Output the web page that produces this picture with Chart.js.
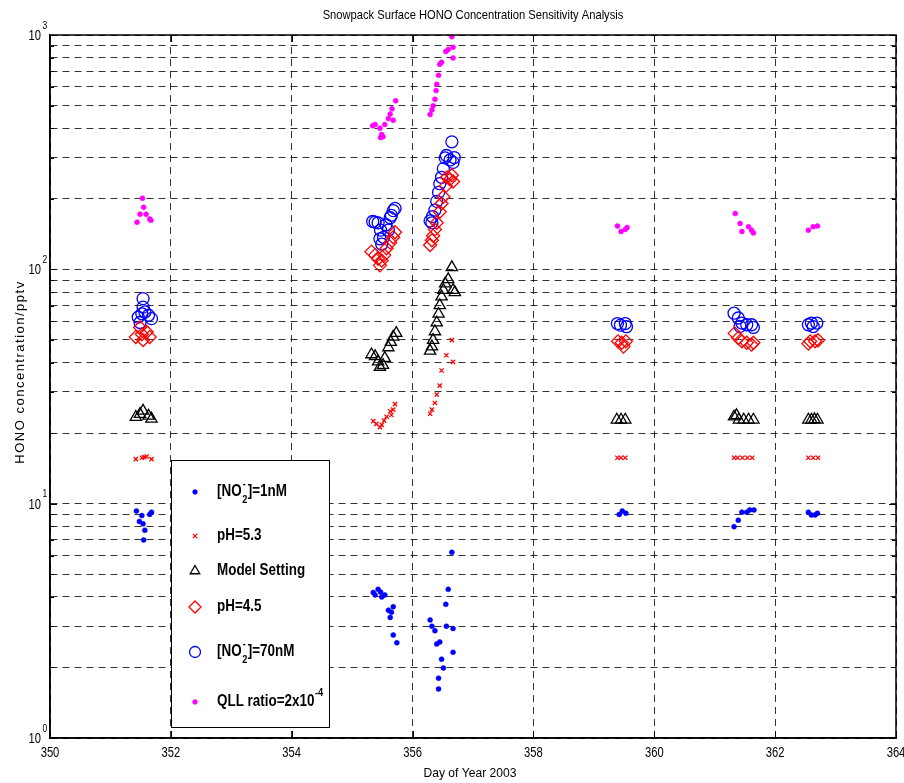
<!DOCTYPE html>
<html>
<head>
<meta charset="utf-8">
<script src="https://cdn.jsdelivr.net/npm/chart.js@4.4.0/dist/chart.umd.min.js"></script>
<style>
  html, body { margin: 0; padding: 0; background: #fff; }
  canvas { display: block; }
</style>
</head>
<body>
<canvas id="myChart" width="904" height="783" style="width:904px;height:783px"></canvas>
<script>
//Data  (day of year, HONO pptv)

const no2LowPts = [
  [351.43, 9.3], [351.52, 8.9], [351.54, 8.2], [351.65, 9.0], [351.68, 9.2], [351.57, 7.7], [351.55, 7.0], [351.48, 8.4],
  [355.35, 4.18], [355.38, 4.08], [355.43, 4.31], [355.47, 4.2], [355.49, 4.0], [355.54, 4.08], [355.60, 3.51], [355.63, 3.27],
  [355.65, 3.44], [355.68, 3.63], [355.68, 2.75], [355.74, 2.55],
  [356.29, 3.19], [356.32, 3.0], [356.37, 2.87], [356.40, 2.52], [356.45, 2.57], [356.48, 2.17], [356.51, 1.99], [356.43, 1.80],
  [356.55, 3.72], [356.56, 3.0], [356.59, 4.31], [356.65, 6.2], [356.67, 2.93], [356.67, 2.32], [356.43, 1.62],
  [359.42, 9.0], [359.47, 9.3], [359.53, 9.1],
  [361.32, 7.98], [361.39, 8.5], [361.45, 9.2], [361.53, 9.2], [361.58, 9.4], [361.65, 9.4],
  [362.55, 9.2], [362.60, 8.95], [362.66, 8.95], [362.70, 9.1]
];

const ph53Pts = [
  [351.42, 15.5], [351.52, 15.7], [351.60, 15.9], [351.68, 15.5], [351.56, 15.8],
  [355.35, 22.5], [355.40, 21.9], [355.46, 21.2], [355.49, 21.7], [355.53, 22.6], [355.57, 23.5], [355.63, 24.8],
  [355.65, 23.9], [355.68, 25.2], [355.71, 26.6],
  [356.29, 24.2], [356.32, 25.2], [356.37, 26.9], [356.40, 29.2], [356.45, 31.9], [356.48, 37], [356.56, 43],
  [356.65, 49.9], [356.67, 40.3],
  [359.39, 15.7], [359.45, 15.7], [359.52, 15.7],
  [361.32, 15.7], [361.38, 15.7], [361.46, 15.7], [361.54, 15.7], [361.62, 15.7],
  [362.55, 15.7], [362.63, 15.7], [362.71, 15.7]
];

const modelPts = [
  [351.42, 23.4], [351.54, 24.9], [351.63, 23.7], [351.68, 23.0], [351.49, 24.1],
  [355.32, 43.3], [355.38, 42.5], [355.43, 40.4], [355.46, 38.3], [355.51, 39], [355.54, 41.8], [355.60, 46.4],
  [355.64, 48.9], [355.68, 51.5], [355.73, 53.4],
  [356.29, 44.9], [356.32, 46.8], [356.34, 49.9], [356.37, 54.3], [356.40, 59.2], [356.43, 64.5], [356.45, 70.2],
  [356.48, 76.5], [356.51, 81.5], [356.54, 86.9], [356.59, 90.6], [356.65, 102], [356.67, 81.5], [356.70, 79.8],
  [359.38, 22.8], [359.45, 22.8], [359.52, 22.8],
  [361.32, 23.5], [361.36, 23.8], [361.40, 22.8], [361.48, 22.8], [361.56, 22.8], [361.64, 22.8],
  [362.55, 22.8], [362.60, 22.8], [362.65, 22.9], [362.70, 22.8]
];

const ph45Pts = [
  [351.42, 51.4], [351.52, 52.8], [351.60, 54], [351.65, 51.4], [351.54, 49.9], [351.49, 56.5],
  [355.32, 119], [355.38, 115], [355.43, 111], [355.46, 104], [355.49, 109], [355.53, 115], [355.57, 123],
  [355.63, 130], [355.68, 137], [355.71, 144],
  [356.29, 127], [356.32, 133], [356.34, 139], [356.37, 148], [356.40, 158], [356.45, 176], [356.48, 191],
  [356.51, 204], [356.55, 227], [356.57, 247], [356.62, 242], [356.65, 252], [356.67, 237],
  [359.40, 49.3], [359.46, 48.6], [359.53, 49.3], [359.49, 46.8],
  [361.33, 53.3], [361.39, 50.9], [361.45, 49.3], [361.53, 48.6], [361.61, 47.7], [361.64, 48.6],
  [362.58, 49.3], [362.66, 49.3], [362.71, 49.8], [362.55, 48.2]
];

const no2HighPts = [
  [351.54, 75], [351.54, 69], [351.46, 62.5], [351.52, 64.6], [351.63, 63.7], [351.68, 61.6], [351.57, 65.8], [351.49, 59.3],
  [355.34, 160], [355.38, 159], [355.43, 158], [355.47, 147], [355.46, 135], [355.49, 128], [355.52, 137], [355.56, 155],
  [355.60, 147], [355.63, 166], [355.65, 170], [355.68, 178], [355.71, 182],
  [356.29, 161], [356.32, 158], [356.33, 168], [356.37, 179], [356.40, 195], [356.43, 213], [356.45, 232], [356.48, 247],
  [356.51, 269], [356.54, 299], [356.56, 306], [356.62, 293], [356.65, 350], [356.67, 286], [356.69, 300],
  [359.39, 58.7], [359.44, 57.8], [359.52, 58.7], [359.54, 56.9],
  [361.32, 65], [361.39, 62], [361.45, 59], [361.53, 58], [361.61, 58], [361.64, 56.5], [361.42, 57.1],
  [362.55, 58], [362.60, 59], [362.69, 59], [362.63, 57]
];

const qllPts = [
  [351.44, 159], [351.49, 172], [351.53, 201], [351.55, 184], [351.59, 172], [351.65, 164], [351.67, 162],
  [355.34, 410], [355.38, 415], [355.46, 400], [355.49, 376], [355.47, 365], [355.51, 368], [355.54, 415],
  [355.60, 440], [355.63, 460], [355.66, 484], [355.68, 433], [355.72, 524],
  [356.29, 458], [356.32, 478], [356.34, 499], [356.37, 532], [356.39, 579], [356.40, 617], [356.43, 673],
  [356.45, 750], [356.48, 765], [356.55, 850], [356.59, 868], [356.65, 984], [356.67, 798], [356.67, 886],
  [359.39, 153], [359.45, 145], [359.52, 148], [359.55, 151],
  [361.34, 173], [361.42, 157], [361.45, 145], [361.56, 152], [361.61, 147], [361.64, 143],
  [362.55, 147], [362.63, 152], [362.70, 153]
];

const xTicks = [350, 352, 354, 356, 358, 360, 362, 364];
const yDecades = [1, 10, 100, 1000];
const yExponents = ['0', '1', '2', '3'];
const yMinorSteps = [2, 3, 4, 5, 6, 7, 8, 9];

//Styles

const FONT = '"Liberation Sans", Arial, sans-serif';
const GRID = 'rgba(0,0,0,0.8)';

function toXY(pts) {
  return pts.map(p => ({ x: p[0], y: p[1] }));
}

// text squeezed horizontally (the original uses a narrow Helvetica)
function narrowText(ctx, txt, x, y, sx, align) {
  ctx.save();
  ctx.translate(x, y);
  ctx.scale(sx, 1);
  ctx.textAlign = align || 'left';
  ctx.fillText(txt, 0, 0);
  ctx.restore();
  return ctx.measureText(txt).width * sx;
}

const datasets = [
  { label: '[NO2-]=1nM', data: toXY(no2LowPts), pointStyle: 'circle', pointRadius: 2.5,
    backgroundColor: '#0000ff', borderColor: '#0000ff', borderWidth: 0.5 },
  { label: 'pH=5.3', data: toXY(ph53Pts), pointStyle: 'crossRot', pointRadius: 3,
    backgroundColor: '#ff0000', borderColor: '#ff0000', borderWidth: 1.3 },
  { label: 'Model Setting', data: toXY(modelPts), pointStyle: 'triangle', pointRadius: 6.5,
    backgroundColor: 'rgba(0,0,0,0)', borderColor: '#000', borderWidth: 1.3 },
  { label: 'pH=4.5', data: toXY(ph45Pts), pointStyle: 'rectRot', pointRadius: 6.5,
    backgroundColor: 'rgba(0,0,0,0)', borderColor: '#ff0000', borderWidth: 1.3 },
  { label: '[NO2-]=70nM', data: toXY(no2HighPts), pointStyle: 'circle', pointRadius: 6,
    backgroundColor: 'rgba(0,0,0,0)', borderColor: '#0000ff', borderWidth: 1.3 },
  { label: 'QLL ratio=2x10-4', data: toXY(qllPts), pointStyle: 'circle', pointRadius: 2.5,
    backgroundColor: '#ff00ff', borderColor: '#ff00ff', borderWidth: 0.5 }
];

//Legend rows: pieces of text (n = normal, ss = stacked sup/sub, sup = superscript)

const legendRows = [
  { y: 492, r: 2.4, parts: [['n', '[NO'], ['ss', '-', '2'], ['n', ']=1nM']] },
  { y: 536, r: 3, parts: [['n', 'pH=5.3']] },
  { y: 571, r: 5.5, parts: [['n', 'Model Setting']] },
  { y: 607, r: 6, parts: [['n', 'pH=4.5']] },
  { y: 652, r: 5.5, parts: [['n', '[NO'], ['ss', '-', '2'], ['n', ']=70nM']] },
  { y: 702, r: 2.4, parts: [['n', 'QLL ratio=2x10'], ['sup', '-4']] }
];

function drawLegend(chart) {
  const ctx = chart.ctx;
  const SX = 0.84;
  ctx.save();
  ctx.fillStyle = '#fff';
  ctx.fillRect(171.5, 460.5, 158, 267);
  ctx.strokeStyle = '#000';
  ctx.lineWidth = 1;
  ctx.strokeRect(171.5, 460.5, 158, 267);

  legendRows.forEach((row, i) => {
    const ds = chart.data.datasets[i];
    ctx.save();
    ctx.fillStyle = ds.backgroundColor;
    ctx.strokeStyle = ds.borderColor;
    ctx.lineWidth = ds.borderWidth;
    Chart.helpers.drawPoint(ctx, { pointStyle: ds.pointStyle, radius: row.r, rotation: 0, borderWidth: ds.borderWidth }, 195, row.y);
    ctx.restore();

    let x = 217;
    ctx.fillStyle = '#000';
    ctx.textBaseline = 'middle';
    row.parts.forEach(p => {
      if (p[0] === 'n') {
        ctx.font = 'bold 16px ' + FONT;
        x += narrowText(ctx, p[1], x, row.y, SX);
      } else if (p[0] === 'ss') {
        ctx.font = 'bold 11px ' + FONT;
        const w1 = narrowText(ctx, p[1], x + 1, row.y - 8, SX);
        const w2 = narrowText(ctx, p[2], x + 0.5, row.y + 8, SX);
        x += Math.max(w1, w2) + 1;
      } else {
        ctx.font = 'bold 11px ' + FONT;
        x += narrowText(ctx, p[1], x + 0.5, row.y - 9, SX);
      }
    });
  });
  ctx.restore();
}

//Frame, inner ticks, texts

const framePlugin = {
  id: 'frame',
  afterDraw(chart) {
    const ctx = chart.ctx;
    const a = chart.chartArea;
    const xs = chart.scales.x;
    const ys = chart.scales.y;
    ctx.save();

    // inner tick marks
    ctx.strokeStyle = '#000';
    ctx.lineWidth = 1;
    ctx.beginPath();
    xTicks.forEach(v => {
      const px = Math.round(xs.getPixelForValue(v)) + 0.5;
      ctx.moveTo(px, a.bottom); ctx.lineTo(px, a.bottom - 7);
      ctx.moveTo(px, a.top); ctx.lineTo(px, a.top + 7);
    });
    ys.ticks.forEach(t => {
      const py = Math.round(ys.getPixelForValue(t.value)) + 0.5;
      const len = yDecades.includes(t.value) ? 7 : 4;
      ctx.moveTo(a.left, py); ctx.lineTo(a.left + len, py);
      ctx.moveTo(a.right, py); ctx.lineTo(a.right - len, py);
    });
    ctx.stroke();

    drawLegend(chart);

    // box
    ctx.lineWidth = 1.5;
    ctx.strokeStyle = '#000';
    ctx.strokeRect(a.left, a.top, a.right - a.left, a.bottom - a.top);

    ctx.fillStyle = '#000';
    ctx.textBaseline = 'middle';

    // x tick labels
    ctx.font = '14px ' + FONT;
    xTicks.forEach(v => {
      narrowText(ctx, String(v), xs.getPixelForValue(v), a.bottom + 15, 0.8, 'center');
    });

    // y tick labels 10^n
    yDecades.forEach((v, i) => {
      const py = ys.getPixelForValue(v);
      ctx.font = '14px ' + FONT;
      narrowText(ctx, '10', 41, py + 1, 0.8, 'right');
      ctx.font = '10px ' + FONT;
      narrowText(ctx, yExponents[i], 42.5, py - 9, 0.85, 'left');
    });

    // title and axis titles
    ctx.font = '13px ' + FONT;
    narrowText(ctx, 'Snowpack Surface HONO Concentration Sensitivity Analysis', (a.left + a.right) / 2, 15, 0.86, 'center');
    narrowText(ctx, 'Day of Year 2003', (a.left + a.right) / 2 - 3, 773, 0.93, 'center');

    ctx.save();
    ctx.translate(20, 372);
    ctx.rotate(-Math.PI / 2);
    ctx.font = '13px ' + FONT;
    ctx.letterSpacing = '1.5px';
    ctx.textAlign = 'center';
    ctx.fillText('HONO concentration/pptv', 0, 0);
    ctx.restore();

    ctx.restore();
  }
};

const chartGraph = document.getElementById('myChart');

window.myChart = new Chart(chartGraph, {
  type: 'scatter',
  data: { datasets: datasets },
  options: {
    responsive: false,
    animation: false,
    devicePixelRatio: 1,
    layout: { padding: { top: 35, right: 8, left: 0, bottom: 0 } },
    plugins: {
      legend: { display: false },
      title: { display: false },
      tooltip: { enabled: false }
    },
    scales: {
      x: {
        type: 'linear',
        min: 350,
        max: 364,
        afterBuildTicks(s) { s.ticks = xTicks.map(v => ({ value: v })); },
        afterFit(s) { s.height = 45; s.paddingLeft = 0; s.paddingRight = 0; },
        ticks: { display: false, autoSkip: false },
        grid: { color: GRID, lineWidth: 1, drawTicks: false },
        border: { display: true, color: '#000', width: 1.5, dash: [7, 5] }
      },
      y: {
        type: 'logarithmic',
        min: 1,
        max: 1000,
        afterBuildTicks(s) {
          const t = [];
          yDecades.forEach(d => {
            t.push({ value: d });
            if (d < 1000) yMinorSteps.forEach(m => t.push({ value: m * d }));
          });
          s.ticks = t;
        },
        afterFit(s) { s.width = 50; s.paddingTop = 0; s.paddingBottom = 0; },
        ticks: { display: false, autoSkip: false },
        grid: { color: GRID, lineWidth: 1, drawTicks: false },
        border: { display: true, color: '#000', width: 1.5, dash: [7, 5] }
      }
    }
  },
  plugins: [framePlugin]
});
</script>
</body>
</html>
